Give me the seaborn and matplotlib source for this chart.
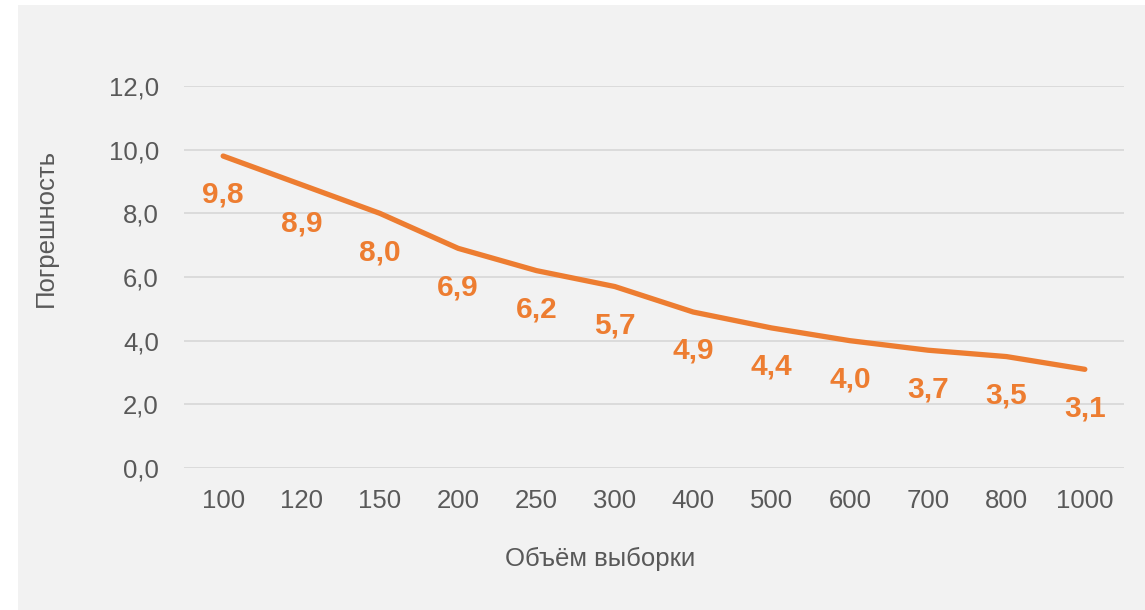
import matplotlib
matplotlib.use("Agg")
import matplotlib.pyplot as plt
import seaborn as sns
import pandas as pd
from matplotlib.ticker import FuncFormatter, MultipleLocator
from matplotlib.patches import Rectangle

sample_sizes = ["100", "120", "150", "200", "250", "300", "400", "500", "600", "700", "800", "1000"]
errors = [9.8, 8.9, 8.0, 6.9, 6.2, 5.7, 4.9, 4.4, 4.0, 3.7, 3.5, 3.1]
x_title = "Объём выборки"
y_title = "Погрешность"

df = pd.DataFrame({"size": sample_sizes, "err": errors})

sns.set_style("white")
plt.rcParams["font.family"] = ["Liberation Sans", "DejaVu Sans"]

W, H = 1145, 610
fig = plt.figure(figsize=(W / 100, H / 100), dpi=100)
fig.patch.set_facecolor("white")
fig.patches.append(Rectangle((18 / W, 0), 1 - 18 / W, 1 - 5 / H, transform=fig.transFigure,
                             facecolor="#f2f2f2", edgecolor="none", zorder=-10))

ax = fig.add_axes([184 / W, 1 - 468 / H, (1124 - 184) / W, (468 - 86) / H])
ax.set_zorder(1)
ax.set_facecolor("none")

orange = "#ed7d31"
sns.lineplot(data=df, x="size", y="err", ax=ax, color=orange, linewidth=3.8,
             sort=False, solid_capstyle="round")

for i, v in enumerate(errors):
    ax.annotate(f"{v:.1f}".replace(".", ","), (i, v), xytext=(0, -28),
                textcoords="offset points", ha="center", va="center",
                fontsize=21.5, fontweight="bold", color=orange)

ax.set_xlim(-0.5, len(sample_sizes) - 0.5)
ax.set_ylim(0, 12)
ax.yaxis.set_major_locator(MultipleLocator(2))
ax.yaxis.set_major_formatter(FuncFormatter(lambda v, p: f"{v:.1f}".replace(".", ",")))
ax.grid(axis="y", color="#d9d9d9", linewidth=1.3)
ax.grid(axis="x", visible=False)
for s in ax.spines.values():
    s.set_visible(False)
ax.tick_params(axis="both", length=0, labelsize=18.5, labelcolor="#595959")
ax.tick_params(axis="y", pad=18)
ax.tick_params(axis="x", pad=15)
ax.set_xlabel("")
ax.set_ylabel("")

fig.text(600 / W, 1 - 559 / H, x_title, ha="center", va="center", fontsize=18.5, color="#595959")
fig.text(46 / W, 1 - 228 / H, y_title, ha="center", va="center", rotation=90,
         fontsize=18.5, color="#595959")

fig.savefig("out.png", dpi=100)
